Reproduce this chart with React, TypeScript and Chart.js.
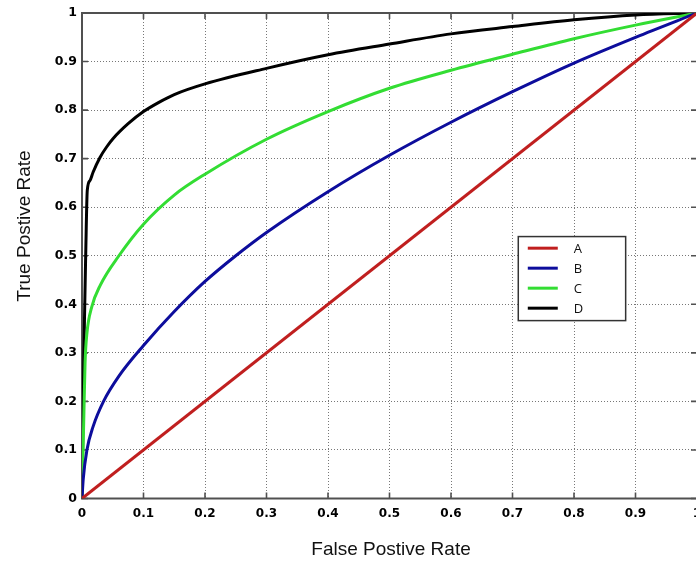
import React, { useEffect, useRef } from "react";
import { Chart, registerables } from "chart.js";

Chart.register(...registerables);

const seriesNames = ["A", "B", "C", "D"];
const seriesColors = ["#c01f1f", "#0d0d9c", "#33dd33", "#000000"];

const fprA = [0, 1];
const tprA = [0, 1];

const fprB = [0, 0.002, 0.008, 0.018, 0.035, 0.06, 0.1, 0.15, 0.2, 0.25, 0.3, 0.4, 0.5, 0.6, 0.7, 0.8, 0.9, 1];
const tprB = [0, 0.04, 0.1, 0.148, 0.2, 0.252, 0.315, 0.385, 0.447, 0.5, 0.548, 0.632, 0.707, 0.775, 0.838, 0.897, 0.95, 1];

const fprC = [0, 0.003, 0.005, 0.008, 0.016, 0.03, 0.06, 0.1, 0.15, 0.2, 0.3, 0.4, 0.5, 0.6, 0.7, 0.8, 0.9, 1];
const tprC = [0, 0.17, 0.28, 0.34, 0.395, 0.44, 0.5, 0.565, 0.625, 0.668, 0.74, 0.797, 0.845, 0.882, 0.915, 0.947, 0.975, 1];

const fprD = [0, 0.003, 0.006, 0.0086, 0.013, 0.018, 0.029, 0.04, 0.051, 0.075, 0.1, 0.125, 0.15, 0.2, 0.3, 0.4, 0.5, 0.6, 0.7, 0.8, 0.9, 1];
const tprD = [0, 0.3, 0.5, 0.635, 0.655, 0.672, 0.702, 0.724, 0.742, 0.772, 0.797, 0.816, 0.832, 0.854, 0.886, 0.914, 0.936, 0.957, 0.972, 0.986, 0.996, 1];

const xTickLabels = ["0", "0.1", "0.2", "0.3", "0.4", "0.5", "0.6", "0.7", "0.8", "0.9", "1"];
const yTickLabels = ["0", "0.1", "0.2", "0.3", "0.4", "0.5", "0.6", "0.7", "0.8", "0.9", "1"];

const xTitle = "False Postive Rate";
const yTitle = "True Postive Rate";

const allFpr = [fprA, fprB, fprC, fprD];
const allTpr = [tprA, tprB, tprC, tprD];

const decorPlugin = {
  id: "decor",
  beforeDatasetsDraw(chart: any) {
    const { ctx, chartArea, scales } = chart;
    const { left, right, top, bottom } = chartArea;
    const xs = scales.x;
    const ys = scales.y;
    ctx.save();
    ctx.strokeStyle = "#505050";
    ctx.lineWidth = 1.6;
    ctx.setLineDash([]);
    ctx.beginPath();
    xs.ticks.forEach((t: any) => {
      const px = xs.getPixelForValue(t.value);
      ctx.moveTo(px, bottom);
      ctx.lineTo(px, bottom - 6);
      ctx.moveTo(px, top);
      ctx.lineTo(px, top + 6);
    });
    ys.ticks.forEach((t: any) => {
      const py = ys.getPixelForValue(t.value);
      ctx.moveTo(left, py);
      ctx.lineTo(left + 6, py);
      ctx.moveTo(right, py);
      ctx.lineTo(right - 6, py);
    });
    ctx.stroke();
    ctx.lineWidth = 2;
    ctx.strokeRect(left, top, right - left, bottom - top);
    ctx.restore();
  },
  afterDatasetsDraw(chart: any) {
    const { ctx, scales } = chart;
    const xs = scales.x;
    const ys = scales.y;
    const bx0 = xs.getPixelForValue(0.7094);
    const bx1 = xs.getPixelForValue(0.884);
    const by0 = ys.getPixelForValue(0.5395);
    const by1 = ys.getPixelForValue(0.3664);
    ctx.save();
    ctx.fillStyle = "#ffffff";
    ctx.fillRect(bx0, by0, bx1 - bx0, by1 - by0);
    ctx.strokeStyle = "#333333";
    ctx.lineWidth = 1.5;
    ctx.strokeRect(bx0, by0, bx1 - bx0, by1 - by0);
    seriesNames.forEach((name, i) => {
      const yy = by0 + 11.6 + i * 20;
      ctx.strokeStyle = seriesColors[i];
      ctx.lineWidth = 3;
      ctx.beginPath();
      ctx.moveTo(bx0 + 9.5, yy);
      ctx.lineTo(bx0 + 39.5, yy);
      ctx.stroke();
      ctx.fillStyle = "#111111";
      ctx.font = "13px 'Open Sans'";
      ctx.textBaseline = "middle";
      ctx.textAlign = "left";
      ctx.fillText(name, bx0 + 55.5, yy + 1);
    });
    ctx.restore();
  },
  afterDraw(chart: any) {
    const { ctx, chartArea } = chart;
    ctx.save();
    ctx.fillStyle = "#111111";
    ctx.font = "19px 'Liberation Sans'";
    ctx.textAlign = "center";
    ctx.textBaseline = "alphabetic";
    ctx.fillText(xTitle, (chartArea.left + chartArea.right) / 2 + 1.5, 555);
    ctx.translate(30, 226);
    ctx.rotate(-Math.PI / 2);
    ctx.fillText(yTitle, 0, 0);
    ctx.restore();
  },
};

export default function App() {
  const ref = useRef<HTMLCanvasElement>(null);
  useEffect(() => {
    if (!ref.current) return;
    const datasets = seriesNames.map((name, i) => ({
      label: name,
      data: allFpr[i].map((x, j) => ({ x, y: allTpr[i][j] })),
      borderColor: seriesColors[i],
      backgroundColor: seriesColors[i],
      borderWidth: 3,
      pointRadius: 0,
      showLine: true,
      fill: false,
      cubicInterpolationMode: "monotone" as const,
    }));
    const chart = new Chart(ref.current, {
      type: "scatter",
      data: { datasets },
      options: {
        responsive: false,
        animation: false,
        devicePixelRatio: 1,
        layout: { padding: { top: 13, right: 13, bottom: 0, left: 0 } },
        plugins: { legend: { display: false }, tooltip: { enabled: false } },
        scales: {
          x: {
            type: "linear",
            min: 0,
            max: 1,
            afterFit: (s: any) => {
              s.height = 62.5;
            },
            ticks: {
              stepSize: 0.1,
              padding: 8,
              color: "#000",
              font: { family: "'DejaVu Sans'", weight: "bold", size: 12 },
              maxRotation: 0,
              autoSkip: false,
              callback: (_v: any, i: number) => xTickLabels[i],
            },
            grid: { color: "#777777", lineWidth: 1, drawTicks: false },
            border: { display: false, dash: [1, 2] },
          },
          y: {
            type: "linear",
            min: 0,
            max: 1,
            afterFit: (s: any) => {
              s.width = 82;
            },
            ticks: {
              stepSize: 0.1,
              padding: 5,
              color: "#000",
              font: { family: "'DejaVu Sans'", weight: "bold", size: 12.5 },
              autoSkip: false,
              callback: (_v: any, i: number) => yTickLabels[i],
            },
            grid: { color: "#777777", lineWidth: 1, drawTicks: false },
            border: { display: false, dash: [1, 2] },
          },
        },
      },
      plugins: [decorPlugin],
    });
    return () => chart.destroy();
  }, []);
  return (
    <div style={{ position: "absolute", left: 0, top: 0, width: 696, height: 561, overflow: "hidden", background: "#fff" }}>
      <canvas ref={ref} width={710} height={561} style={{ display: "block" }} />
    </div>
  );
}
